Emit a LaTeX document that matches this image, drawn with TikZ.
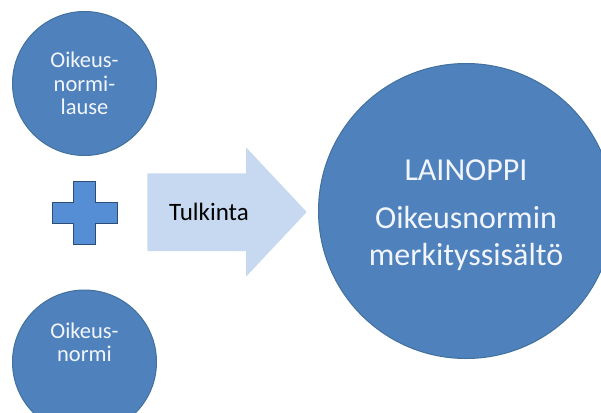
\documentclass[tikz,border=0pt]{standalone}
\usepackage{fontspec}
\setmainfont{Carlito}
\definecolor{circfill}{HTML}{4F81BD}
\definecolor{circline}{HTML}{41719C}
\definecolor{plusfill}{HTML}{558ED5}
\definecolor{plusline}{HTML}{2C4D75}
\definecolor{arrowfill}{HTML}{C6D9F1}
\definecolor{lighttext}{HTML}{F2F6FC}
\begin{document}
\begin{tikzpicture}[x=1pt,y=-1pt,
  bubble/.style={circle,fill=circfill,draw=circline,line width=1pt,inner sep=0pt},
  smalltext/.style={text=lighttext,align=center,font=\fontsize{22.5}{23.5}\selectfont},
  bigtext/.style={text=lighttext,align=center,font=\fontsize{32}{37}\selectfont}]
\useasboundingbox (0,0) rectangle (601,412);
\clip (0,0) rectangle (601,412);
\fill[white] (0,0) rectangle (601,412);
% circles
\node[bubble,minimum size=144pt] (top) at (84.5,83.5) {};
\node[bubble,minimum size=144pt] (bottom) at (84.5,362) {};
\node[bubble,minimum size=295pt] (big) at (466,211) {};
\node[smalltext] (toptext) at (top.center) {Oikeus-\\normi-\\lause};
\node[smalltext] (bottomtext) at (84.5,342.5) {Oikeus-\\normi};
\node[bigtext] (lainoppi) at (466,170) {LAINOPPI};
\node[bigtext] (sisalto) at (466,238.5) {Oikeusnormin\\merkityssisältö};
% plus
\draw[fill=plusfill,draw=plusline,line width=1pt]
  (73.3,181) -- (95,181) -- (95,202.7) -- (117.3,202.7) -- (117.3,223.3) -- (95,223.3)
  -- (95,244) -- (73.3,244) -- (73.3,223.3) -- (52.3,223.3) -- (52.3,202.7) -- (73.3,202.7) -- cycle;
% arrow
\fill[arrowfill] (147.3,173.3) -- (246,173.3) -- (246,147.3) -- (306.7,212) -- (246,276.7)
  -- (246,251) -- (147.3,251) -- cycle;
\node[text=black,font=\fontsize{25}{28}\selectfont] (tulkinta) at (209,212) {Tulkinta};
\end{tikzpicture}
\end{document}
